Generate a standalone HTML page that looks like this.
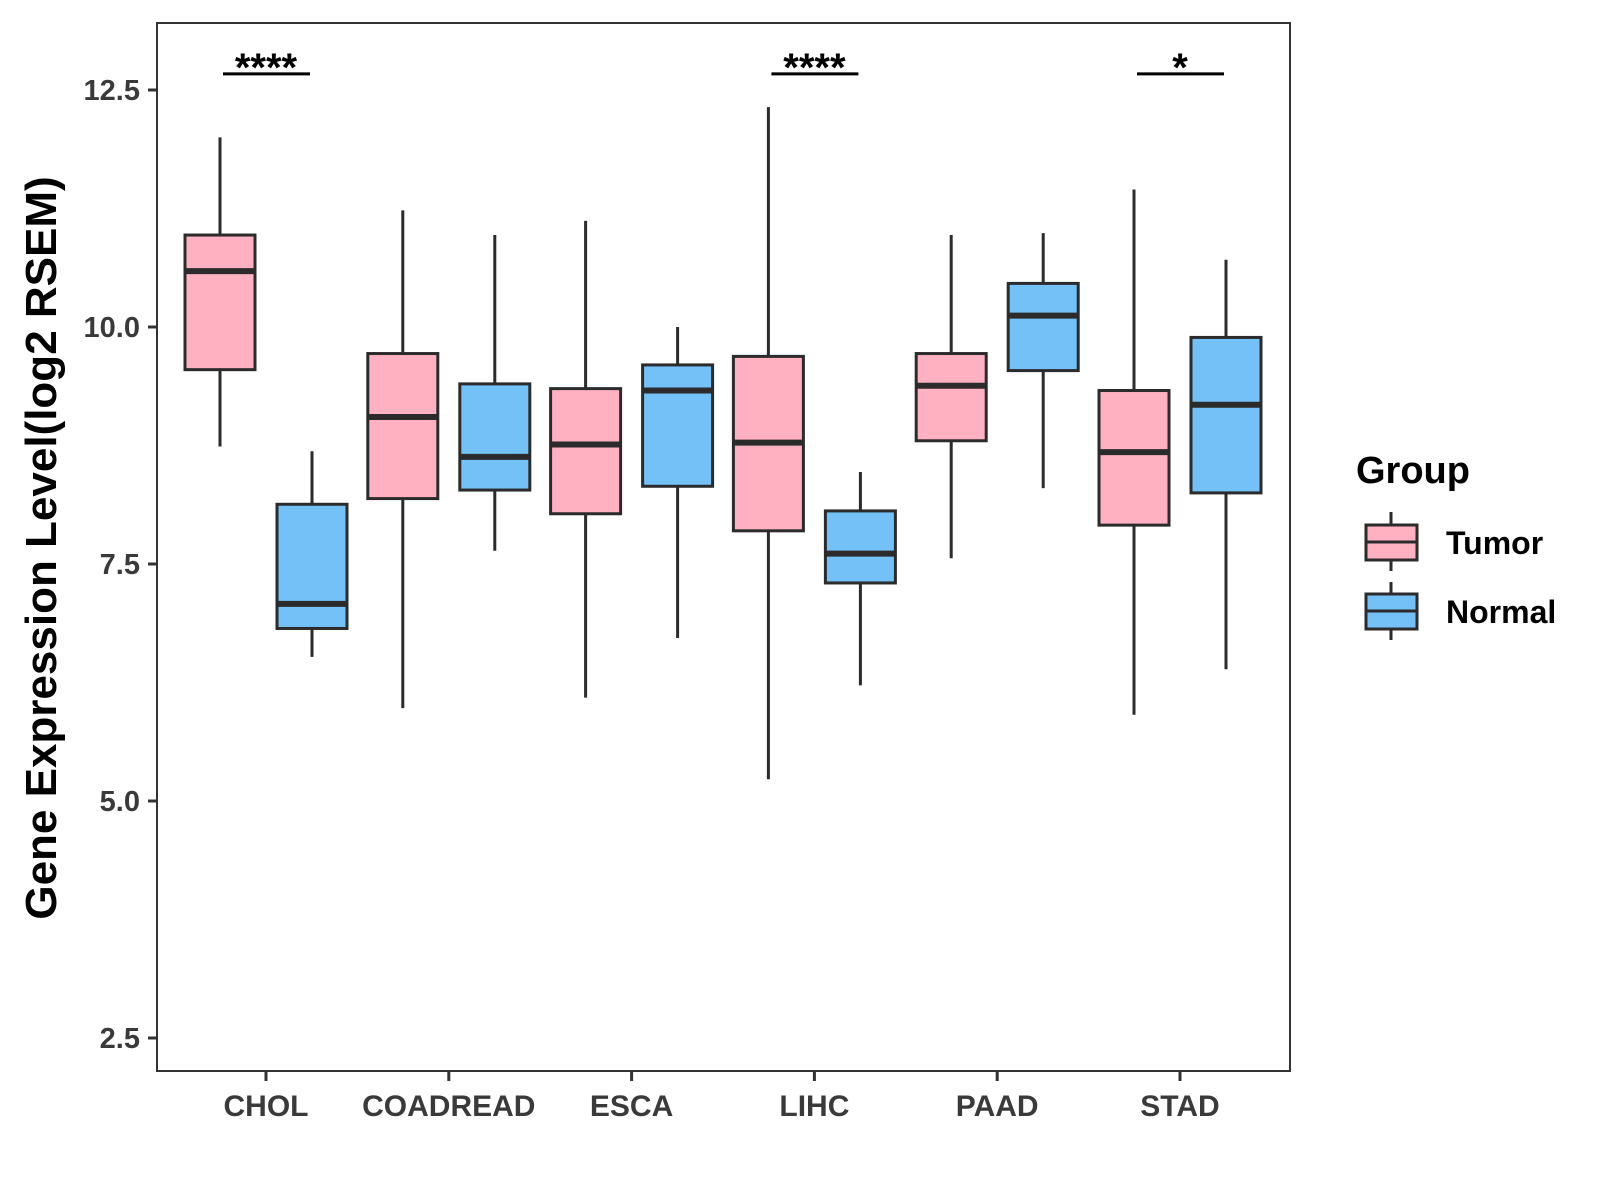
<!DOCTYPE html>
<html><head><meta charset="utf-8"><style>
html,body{margin:0;padding:0;background:#fff;}
svg{display:block;font-family:"Liberation Sans",Arial,sans-serif;font-weight:bold;}
</style></head><body>
<svg id="chart" width="1600" height="1200" viewBox="0 0 1600 1200">
<rect x="157" y="23" width="1133" height="1048" fill="#fff" stroke="#333" stroke-width="2"/>
<g id="axes"></g>
<g id="boxes"></g>
<g id="sig"></g>
<text transform="translate(56,548) rotate(-90)" text-anchor="middle" font-size="44" fill="#000">Gene Expression Level(log2 RSEM)</text>
<g>
<text x="1356" y="483" font-size="38" fill="#000">Group</text>
<g>
<line x1="1391" y1="512" x2="1391" y2="571" stroke="#2b2b2b" stroke-width="3"/>
<rect x="1366" y="525" width="51" height="35" fill="#FFB0C1" stroke="#2b2b2b" stroke-width="3"/>
<line x1="1366" y1="542" x2="1417" y2="542" stroke="#2b2b2b" stroke-width="3"/>
<text x="1446" y="554" font-size="32" fill="#000">Tumor</text>
</g>
<g>
<line x1="1391" y1="582" x2="1391" y2="640" stroke="#2b2b2b" stroke-width="3"/>
<rect x="1366" y="594" width="51" height="35" fill="#74C1F7" stroke="#2b2b2b" stroke-width="3"/>
<line x1="1366" y1="611" x2="1417" y2="611" stroke="#2b2b2b" stroke-width="3"/>
<text x="1446" y="623" font-size="32" fill="#000">Normal</text>
</g>
</g>
</svg>
<script>
const categories=["CHOL","COADREAD","ESCA","LIHC","PAAD","STAD"];
const yTicks=[2.5,5.0,7.5,10.0,12.5];
const yTickLabels=["2.5","5.0","7.5","10.0","12.5"];
// [lower, q1, median, q3, upper]
const tumorStats=[[8.74,9.55,10.59,10.97,12.0],[5.98,8.19,9.05,9.72,11.23],[6.09,8.03,8.76,9.35,11.12],[5.23,7.85,8.78,9.69,12.32],[7.56,8.80,9.38,9.72,10.97],[5.91,7.91,8.68,9.33,11.45]];
const normalStats=[[6.52,6.82,7.08,8.13,8.69],[7.64,8.28,8.63,9.40,10.97],[6.72,8.32,9.33,9.60,10.0],[6.22,7.30,7.61,8.06,8.47],[8.30,9.54,10.12,10.46,10.99],[6.39,8.25,9.18,9.89,10.71]];
const sigCategories=["CHOL","LIHC","STAD"];
const sigLabels=["****","****","*"];
const sigY=[12.67,12.67,12.67];

const NS="http://www.w3.org/2000/svg";
function y(v){return 1038-(v-2.5)*94.8;}
function x(i){return 266+i*182.8;}
function mk(tag,attrs,parent){const e=document.createElementNS(NS,tag);for(const k in attrs)e.setAttribute(k,attrs[k]);parent.appendChild(e);return e;}
const axes=document.getElementById('axes');
yTicks.forEach((t,i)=>{
  const g=mk('g',{},axes);
  
  
  mk('line',{x1:148,x2:157,y1:y(t),y2:y(t),stroke:'#333','stroke-width':3},g);
  const tx=mk('text',{x:140,y:y(t)+10,'text-anchor':'end','font-size':29,fill:'#3a3a3a'},g);
  tx.textContent=yTickLabels[i];
});
categories.forEach((c,i)=>{
  const g=mk('g',{},axes);
  
  
  mk('line',{x1:x(i),x2:x(i),y1:1071,y2:1081,stroke:'#333','stroke-width':3},g);
  const tx=mk('text',{x:x(i),y:1116,'text-anchor':'middle','font-size':30,fill:'#3a3a3a'},g);
  tx.textContent=c;
});
const boxes=document.getElementById('boxes');
function drawBox(s,cx,fill,name){
  const g=mk('g',{},boxes);
  
  
  mk('line',{x1:cx,x2:cx,y1:y(s[0]),y2:y(s[4]),stroke:'#2b2b2b','stroke-width':3},g);
  mk('rect',{x:cx-35,y:y(s[3]),width:70,height:y(s[1])-y(s[3]),fill:fill,stroke:'#2b2b2b','stroke-width':3},g);
  mk('line',{x1:cx-35,x2:cx+35,y1:y(s[2]),y2:y(s[2]),stroke:'#2b2b2b','stroke-width':6},g);
}
categories.forEach((c,i)=>{
  drawBox(tumorStats[i],x(i)-46,'#FFB0C1','box-'+c.toLowerCase()+'-tumor');
  drawBox(normalStats[i],x(i)+46,'#74C1F7','box-'+c.toLowerCase()+'-normal');
});
const sig=document.getElementById('sig');
sigCategories.forEach((c,k)=>{
  const i=categories.indexOf(c);
  const g=mk('g',{},sig);
  
  
  mk('line',{x1:x(i)-43,x2:x(i)+44,y1:y(sigY[k]),y2:y(sigY[k]),stroke:'#000','stroke-width':3},g);
  const tx=mk('text',{x:x(i),y:y(sigY[k])+7,'text-anchor':'middle','font-size':40,fill:'#000'},g);
  tx.textContent=sigLabels[k];
});
</script>
</body></html>
